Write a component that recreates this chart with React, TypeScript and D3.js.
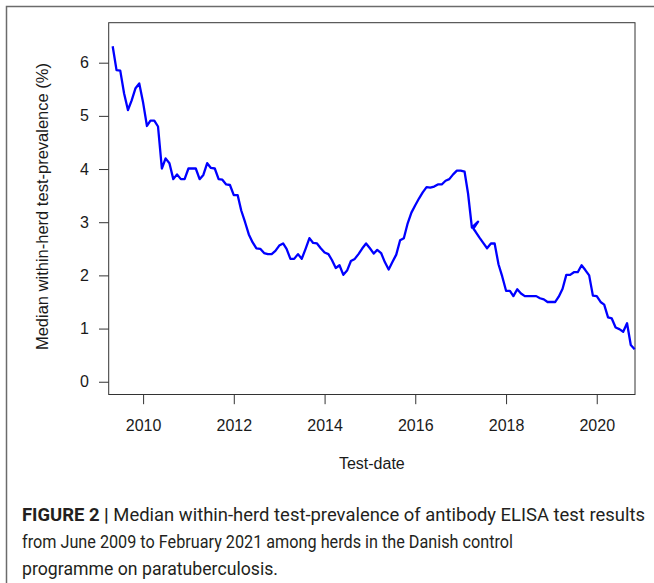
import { useEffect, useRef } from "react";
import * as d3 from "d3";

const width = 654;
const height = 583;

// monthly test dates (the 2017 spur is kept as drawn in the figure)
const testDates = [
  "2009-05", "2009-06", "2009-07", "2009-08", "2009-09", "2009-10", "2009-11", "2009-12",
  "2010-01", "2010-02", "2010-03", "2010-04", "2010-05", "2010-06", "2010-07", "2010-08", "2010-09", "2010-10", "2010-11", "2010-12",
  "2011-01", "2011-02", "2011-03", "2011-04", "2011-05", "2011-06", "2011-07", "2011-08", "2011-09", "2011-10", "2011-11", "2011-12",
  "2012-01", "2012-02", "2012-03", "2012-04", "2012-05", "2012-06", "2012-07", "2012-08", "2012-09", "2012-10", "2012-11", "2012-12",
  "2013-01", "2013-02", "2013-03", "2013-04", "2013-05", "2013-06", "2013-07", "2013-08", "2013-09", "2013-10", "2013-11", "2013-12",
  "2014-01", "2014-02", "2014-03", "2014-04", "2014-05", "2014-06", "2014-07", "2014-08", "2014-09", "2014-10", "2014-11", "2014-12",
  "2015-01", "2015-02", "2015-03", "2015-04", "2015-05", "2015-06", "2015-07", "2015-08", "2015-09", "2015-10", "2015-11", "2015-12",
  "2016-01", "2016-02", "2016-03", "2016-04", "2016-05", "2016-06", "2016-07", "2016-08", "2016-09", "2016-10", "2016-11", "2016-12",
  "2017-01", "2017-02", "2017-03", "2017-04", "2017-05-21", "2017-04-13", "2017-05", "2017-06", "2017-07", "2017-08", "2017-09", "2017-10", "2017-11", "2017-12",
  "2018-01", "2018-02", "2018-03", "2018-04", "2018-05", "2018-06", "2018-07", "2018-08", "2018-09", "2018-10", "2018-11", "2018-12",
  "2019-01", "2019-02", "2019-03", "2019-04", "2019-05", "2019-06", "2019-07", "2019-08", "2019-09", "2019-10", "2019-11", "2019-12",
  "2020-01", "2020-02", "2020-03", "2020-04", "2020-05", "2020-06", "2020-07", "2020-08", "2020-09", "2020-10", "2020-11",
];

// median within-herd test-prevalence (%)
const prevalence = [
  6.31, 5.86, 5.85, 5.42, 5.11, 5.29, 5.52, 5.61,
  5.25, 4.81, 4.91, 4.91, 4.8, 4.01, 4.2, 4.11, 3.81, 3.9, 3.81, 3.81,
  4.01, 4.01, 4.01, 3.81, 3.89, 4.11, 4.02, 4.01, 3.81, 3.8, 3.71, 3.7,
  3.51, 3.51, 3.22, 3.0, 2.77, 2.62, 2.51, 2.5, 2.42, 2.4, 2.4, 2.46,
  2.56, 2.6, 2.5, 2.31, 2.31, 2.4, 2.31, 2.5, 2.7, 2.61, 2.6, 2.51,
  2.43, 2.4, 2.29, 2.14, 2.19, 2.01, 2.09, 2.27, 2.31, 2.4, 2.51, 2.6,
  2.51, 2.41, 2.48, 2.42, 2.25, 2.11, 2.25, 2.39, 2.66, 2.7, 2.98, 3.18,
  3.32, 3.45, 3.56, 3.66, 3.65, 3.67, 3.71, 3.71, 3.78, 3.81, 3.9, 3.97,
  3.97, 3.95, 3.54, 2.9, 3.01, 2.88, 2.82, 2.71, 2.61, 2.51, 2.6, 2.6, 2.21, 1.98,
  1.71, 1.71, 1.61, 1.74, 1.66, 1.61, 1.61, 1.61, 1.61, 1.57, 1.55, 1.5,
  1.5, 1.5, 1.6, 1.75, 2.01, 2.01, 2.06, 2.06, 2.19, 2.1, 2.0, 1.62,
  1.61, 1.5, 1.45, 1.21, 1.19, 1.02, 0.99, 0.94, 1.1, 0.69, 0.61,
];

const yearTicks = [2010, 2012, 2014, 2016, 2018, 2020];
const prevTicks = [0, 1, 2, 3, 4, 5, 6];

const xTitle = "Test-date";
const yTitle = "Median within-herd test-prevalence (%)";
const captionBold = "FIGURE 2 |";
const captionLines = [
  " Median within-herd test-prevalence of antibody ELISA test results",
  "from June 2009 to February 2021 among herds in the Danish control",
  "programme on paratuberculosis.",
];

const box = { left: 108.7, right: 635, top: 22.7, bottom: 394.5 };
const font = "'Liberation Sans', Arial, sans-serif";

export default function App() {
  const ref = useRef<SVGSVGElement | null>(null);

  useEffect(() => {
    if (!ref.current) return;
    const svg = d3.select(ref.current);
    svg.selectAll("*").remove();

    const x = d3
      .scaleUtc()
      .domain([new Date(Date.UTC(2009, 2, 30)), new Date(Date.UTC(2020, 10, 4))])
      .range([box.left, box.right]);
    const y = d3.scaleLinear().domain([-0.24, 6.752]).range([box.bottom, box.top]);

    // outer panel frame
    svg
      .append("path")
      .attr("d", `M6.5,${height} V6.5 H${width}`)
      .attr("fill", "none")
      .attr("stroke", "#6b6b6b")
      .attr("stroke-width", 1.5);

    // y axis
    const yAxis = d3
      .axisLeft(y)
      .tickValues(prevTicks)
      .tickSize(9.7)
      .tickPadding(10)
      .tickFormat(d3.format("d"));
    const yG = svg
      .append("g")
      .attr("transform", `translate(${box.left},0)`)
      .call(yAxis);
    yG.select(".domain").remove();

    // x axis
    const xAxis = d3
      .axisBottom(x)
      .tickValues(yearTicks.map((yr) => new Date(Date.UTC(yr, 0, 1))))
      .tickSize(9.7)
      .tickPadding(15)
      .tickFormat(d3.utcFormat("%Y") as any);
    const xG = svg
      .append("g")
      .attr("transform", `translate(0,${box.bottom})`)
      .call(xAxis);
    xG.select(".domain").remove();

    [yG, xG].forEach((g) => {
      g.selectAll("line").attr("stroke", "#333").attr("stroke-width", 1);
      g.selectAll("text")
        .attr("fill", "#1a1a1a")
        .style("font-family", font)
        .style("font-size", "16px");
    });

    // plot box
    svg
      .append("rect")
      .attr("x", box.left)
      .attr("y", box.top)
      .attr("width", box.right - box.left)
      .attr("height", box.bottom - box.top)
      .attr("fill", "none")
      .attr("stroke", "#333")
      .attr("stroke-width", 1);

    // series
    const points = testDates.map((d, i) => ({ date: new Date(d), value: prevalence[i] }));
    const line = d3
      .line<{ date: Date; value: number }>()
      .x((d) => x(d.date))
      .y((d) => y(d.value));
    svg
      .append("path")
      .datum(points)
      .attr("d", line)
      .attr("fill", "none")
      .attr("stroke", "#0000ff")
      .attr("stroke-width", 2.3)
      .attr("stroke-linejoin", "round");

    // axis titles
    svg
      .append("text")
      .attr("x", (box.left + box.right) / 2)
      .attr("y", 469)
      .attr("text-anchor", "middle")
      .attr("fill", "#1a1a1a")
      .style("font-family", font)
      .style("font-size", "16px")
      .text(xTitle);
    svg
      .append("text")
      .attr("transform", `translate(47.5,${(box.top + box.bottom) / 2 - 2}) rotate(-90)`)
      .attr("text-anchor", "middle")
      .attr("fill", "#1a1a1a")
      .style("font-family", font)
      .style("font-size", "16.5px")
      .text(yTitle);

    // caption
    const cap = svg
      .append("g")
      .attr("fill", "#231f20")
      .style("font-family", "Roboto, Arial, sans-serif")
      .style("font-size", "18px");
    const lens = [623, 491, 256];
    captionLines.forEach((txt, i) => {
      const t = cap
        .append("text")
        .attr("x", 22)
        .attr("y", 521 + i * 27)
        .attr("textLength", lens[i])
        .attr("lengthAdjust", "spacingAndGlyphs");
      if (i === 0) t.append("tspan").attr("font-weight", "bold").text(captionBold);
      t.append("tspan").text(txt);
    });
  }, []);

  return (
    <svg
      ref={ref}
      width={width}
      height={height}
      style={{ position: "absolute", left: 0, top: 0, background: "#fff" }}
    />
  );
}
